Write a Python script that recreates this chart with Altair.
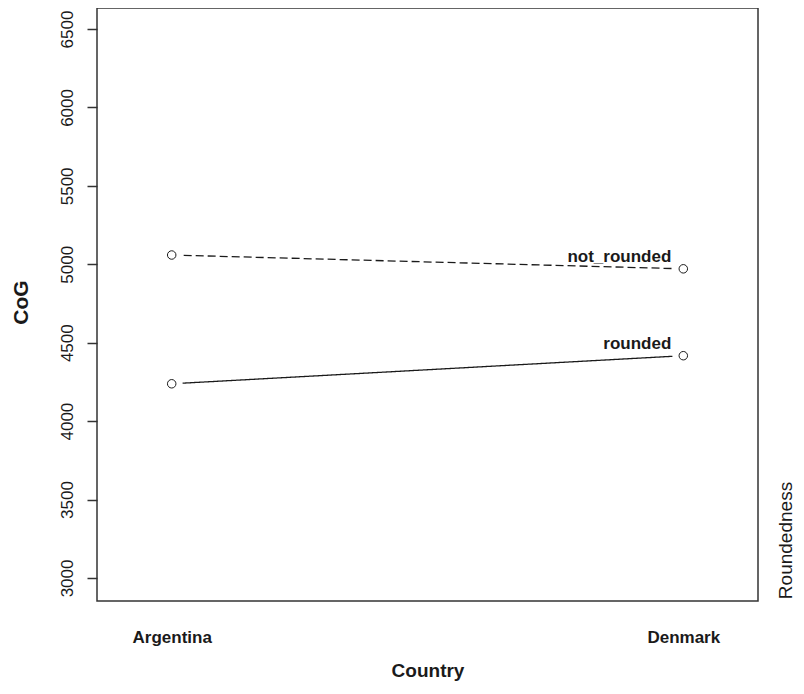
import altair as alt
import pandas as pd

countries = ["Argentina", "Denmark"]
groups = ["not_rounded", "rounded"]
not_rounded = [5059, 4971]
rounded = [4238, 4417]
y_ticks = [3000, 3500, 4000, 4500, 5000, 5500, 6000, 6500]

rows = []
for i, c in enumerate(countries):
    rows.append({"Country": c, "Roundedness": "not_rounded", "CoG": not_rounded[i]})
    rows.append({"Country": c, "Roundedness": "rounded", "CoG": rounded[i]})
df = pd.DataFrame(rows)

FONT = "Liberation Sans"
INK = "#1a1a1a"

x_enc = alt.X(
    "Country:N",
    scale=alt.Scale(type="point", padding=0.146, domain=countries),
    axis=alt.Axis(
        title="Country", labelAngle=0, ticks=False, tickSize=0, domain=False, grid=False,
        labelFont=FONT, labelFontSize=17, labelFontWeight="bold", labelColor=INK,
        labelBaseline="alphabetic", labelPadding=41,
        titleFont=FONT, titleFontSize=19, titleFontWeight="bold", titleColor=INK,
        titleBaseline="alphabetic", titleY=75,
    ),
)
y_scale = alt.Scale(domain=[2853, 6634], nice=False, zero=False)

y_left = alt.Y(
    "CoG:Q", scale=y_scale,
    axis=alt.Axis(
        values=y_ticks, format="d", title="CoG", grid=False, domain=False,
        tickSize=10, tickColor="#333333", tickWidth=1.5,
        labelAngle=270, labelAlign="center", labelBaseline="alphabetic", labelPadding=15,
        labelFont=FONT, labelFontSize=17, labelColor=INK,
        titleFont=FONT, titleFontSize=21, titleFontWeight="bold", titleColor=INK,
        titleAngle=270, titleBaseline="alphabetic", titleAlign="center", titleX=-70, titleY=294,
    ),
)
y_right = alt.Y(
    "CoG:Q", scale=y_scale,
    axis=alt.Axis(
        orient="right", labels=False, ticks=False, domain=False, grid=False,
        title="Roundedness", titleFont=FONT, titleFontSize=19, titleFontWeight="normal",
        titleColor=INK, titleAngle=270, titleBaseline="alphabetic", titleAlign="center",
        titleX=33, titleY=532,
    ),
)
y_none = alt.Y("CoG:Q", scale=y_scale, axis=None)

base = alt.Chart(df)

lines = base.mark_line(color=INK, strokeWidth=1.3).encode(
    x=x_enc, y=y_left,
    strokeDash=alt.StrokeDash(
        "Roundedness:N",
        scale=alt.Scale(domain=groups, range=[[8, 4], [1, 0]]),
        legend=None,
    ),
)
halo = base.mark_point(shape="circle", filled=True, color="white", opacity=1, size=480).encode(
    x=x_enc, y=y_right
)
pts = base.mark_point(shape="circle", filled=False, color=INK, strokeWidth=1, size=72, opacity=1).encode(
    x=x_enc, y=y_none
)
labels = base.transform_filter(alt.datum.Country == countries[-1]).mark_text(
    align="right", baseline="alphabetic", dx=-12, dy=-7,
    font=FONT, fontSize=17, fontWeight="bold", color=INK,
).encode(x=x_enc, y=y_none, text="Roundedness:N")

chart = (
    alt.layer(lines, halo, pts, labels)
    .resolve_axis(y="independent")
    .properties(
        width=661, height=593, autosize="none",
        padding={"left": 89, "top": 0, "right": 38, "bottom": 80},
        background="white",
    )
    .configure_view(stroke="#333333", strokeWidth=1.5)
)

chart.save("out.html", embed_options={"renderer": "svg", "actions": False})
